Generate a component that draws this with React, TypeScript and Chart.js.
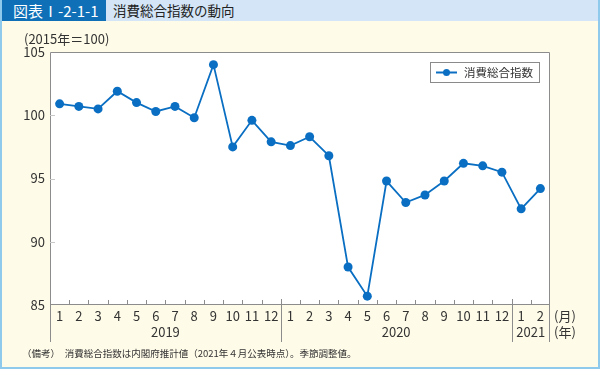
import React, { useEffect, useRef } from 'react';
import { Chart, registerables } from 'chart.js';

Chart.register(...registerables);

const monthLabels = ['1', '2', '3', '4', '5', '6', '7', '8', '9', '10', '11', '12', '1', '2', '3', '4', '5', '6', '7', '8', '9', '10', '11', '12', '1', '2'];
const yearLabels = ['2019', '2020', '2021'];
const yearMonthCounts = [12, 12, 2];
const consumptionIndex = [100.9, 100.7, 100.5, 101.9, 101.0, 100.3, 100.7, 99.8, 104.0, 97.5, 99.6, 97.9, 97.6, 98.3, 96.8, 88.0, 85.7, 94.8, 93.1, 93.7, 94.8, 96.2, 96.0, 95.5, 92.6, 94.2];
const seriesName = '消費総合指数';
const yMin = 85;
const yMax = 105;
const yStep = 5;

const FONT = '"Noto Sans CJK JP", "Noto Sans", sans-serif';
const BLUE = '#0a6fc2';
const AXIS = '#8c8c8c';
const TEXT = '#333333';

const decor = {
  id: 'decor',
  beforeDraw(chart: any) {
    const { ctx, chartArea: a } = chart;
    ctx.save();
    ctx.fillStyle = '#ffffff';
    ctx.fillRect(a.left, a.top, a.right - a.left, a.bottom - a.top);
    ctx.restore();
  },
  beforeDatasetsDraw(chart: any) {
    const { ctx, chartArea: a } = chart;
    const xs = chart.scales.x;
    const ys = chart.scales.y;
    const n = monthLabels.length;
    const boundary = (i: number) =>
      i <= 0 ? a.left : i >= n ? a.right : (xs.getPixelForValue(i - 1) + xs.getPixelForValue(i)) / 2;
    const bottomExt = 342;
    ctx.save();
    ctx.strokeStyle = AXIS;
    ctx.lineWidth = 1;
    // frame
    ctx.beginPath();
    ctx.moveTo(a.left + 0.5, bottomExt);
    ctx.lineTo(a.left + 0.5, a.top + 0.5);
    ctx.lineTo(a.right - 0.5, a.top + 0.5);
    ctx.lineTo(a.right - 0.5, bottomExt);
    ctx.moveTo(a.left, a.bottom - 0.5);
    ctx.lineTo(a.right, a.bottom - 0.5);
    ctx.stroke();
    // y ticks (small, inside)
    ctx.strokeStyle = '#c8c8c8';
    ctx.beginPath();
    for (let v = yMin + yStep; v < yMax; v += yStep) {
      const py = Math.round(ys.getPixelForValue(v)) + 0.5;
      ctx.moveTo(a.left, py);
      ctx.lineTo(a.left + 5, py);
    }
    ctx.stroke();
    // x ticks and year separators
    const seps = new Set<number>();
    let acc = 0;
    for (let k = 0; k < yearMonthCounts.length - 1; k++) {
      acc += yearMonthCounts[k];
      seps.add(acc);
    }
    ctx.strokeStyle = AXIS;
    ctx.beginPath();
    for (let i = 1; i < n; i++) {
      const px = Math.round(boundary(i)) + 0.5;
      if (seps.has(i)) {
        ctx.moveTo(px, a.bottom - 6);
        ctx.lineTo(px, bottomExt);
      } else {
        ctx.moveTo(px, a.bottom - 5);
        ctx.lineTo(px, a.bottom);
      }
    }
    ctx.stroke();
    // year labels
    ctx.fillStyle = TEXT;
    ctx.font = `13px ${FONT}`;
    ctx.textAlign = 'center';
    ctx.textBaseline = 'middle';
    let start = 0;
    yearLabels.forEach((yl, k) => {
      const cnt = yearMonthCounts[k];
      const cx = (boundary(start) + boundary(start + cnt)) / 2;
      ctx.fillText(yl, cx, 332);
      start += cnt;
    });
    // unit labels
    ctx.textAlign = 'left';
    ctx.fillText('(月)', a.right + 4, 316);
    ctx.fillText('(年)', a.right + 4, 332);
    ctx.fillText('(2015年＝100)', 24, 39);
    ctx.restore();
  },
  afterDraw(chart: any) {
    const { ctx } = chart;
    ctx.save();
    const bx = 430.5, by = 62.5, bw = 109, bh = 20;
    ctx.fillStyle = '#ffffff';
    ctx.fillRect(bx, by, bw, bh);
    ctx.strokeStyle = '#8a8a8a';
    ctx.lineWidth = 1;
    ctx.strokeRect(bx, by, bw, bh);
    const cy = by + bh / 2;
    ctx.strokeStyle = BLUE;
    ctx.lineWidth = 2;
    ctx.beginPath();
    ctx.moveTo(436, cy);
    ctx.lineTo(457, cy);
    ctx.stroke();
    ctx.fillStyle = BLUE;
    ctx.beginPath();
    ctx.arc(446.5, cy, 3.5, 0, Math.PI * 2);
    ctx.fill();
    ctx.fillStyle = TEXT;
    ctx.font = `11.5px ${FONT}`;
    ctx.textAlign = 'left';
    ctx.textBaseline = 'middle';
    ctx.fillText(seriesName, 464, cy + 0.5);
    ctx.restore();
  },
};

export default function App() {
  const ref = useRef<HTMLCanvasElement | null>(null);

  useEffect(() => {
    if (!ref.current) return;
    const chart = new Chart(ref.current, {
      type: 'line',
      data: {
        labels: monthLabels,
        datasets: [
          {
            label: seriesName,
            data: consumptionIndex,
            borderColor: BLUE,
            backgroundColor: BLUE,
            borderWidth: 1.8,
            pointRadius: 4.5,
            pointBorderWidth: 0,
            pointBackgroundColor: BLUE,
            tension: 0,
          },
        ],
      },
      options: {
        responsive: false,
        animation: false,
        devicePixelRatio: 1,
        layout: { padding: { top: 52, right: 50, left: 0, bottom: 0 } },
        plugins: { legend: { display: false }, tooltip: { enabled: false } },
        scales: {
          x: {
            type: 'category',
            offset: true,
            grid: { display: false, drawTicks: false },
            border: { display: false },
            ticks: {
              color: TEXT,
              font: { family: FONT, size: 13 },
              padding: 3,
              maxRotation: 0,
              autoSkip: false,
            },
            afterFit: (s: any) => {
              s.height = 64;
            },
          },
          y: {
            min: yMin,
            max: yMax,
            grid: { display: false, drawTicks: false },
            border: { display: false },
            ticks: {
              stepSize: yStep,
              color: TEXT,
              font: { family: FONT, size: 13 },
              padding: 5,
            },
            afterFit: (s: any) => {
              s.width = 50;
            },
          },
        },
      },
      plugins: [decor],
    });
    return () => chart.destroy();
  }, []);

  return (
    <div
      style={{
        position: 'absolute',
        left: 0,
        top: 0,
        width: 600,
        height: 369,
        background: '#fefbe8',
        boxSizing: 'border-box',
        border: '2px solid #8fc9ec',
        borderTop: 'none',
        overflow: 'hidden',
        fontFamily: FONT,
      }}
    >
      <canvas ref={ref} width={600} height={369} style={{ position: 'absolute', left: -2, top: 0, width: 600, height: 369 }} />
      <div
        style={{
          position: 'absolute',
          left: -2,
          top: 0,
          width: 600,
          height: 21,
          background: '#d3e5f6',
        }}
      />
      <div
        style={{
          position: 'absolute',
          left: -2,
          top: 0,
          width: 106,
          height: 21,
          background: '#0f70b8',
          color: '#ffffff',
          fontSize: 15,
          lineHeight: '21px',
          paddingLeft: 13,
          boxSizing: 'border-box',
          whiteSpace: 'nowrap',
        }}
      >
        図表Ⅰ-2-1-1
      </div>
      <div
        style={{
          position: 'absolute',
          left: 111,
          top: 0,
          height: 21,
          color: '#222',
          fontSize: 13.5,
          lineHeight: '21px',
          whiteSpace: 'nowrap',
        }}
      >
        消費総合指数の動向
      </div>
      <div
        style={{
          position: 'absolute',
          left: 20,
          top: 346,
          color: '#333',
          fontSize: 9.5,
          lineHeight: '14px',
          whiteSpace: 'nowrap',
        }}
      >
        （備考）　消費総合指数は内閣府推計値（2021年４月公表時点）。季節調整値。
      </div>
    </div>
  );
}
